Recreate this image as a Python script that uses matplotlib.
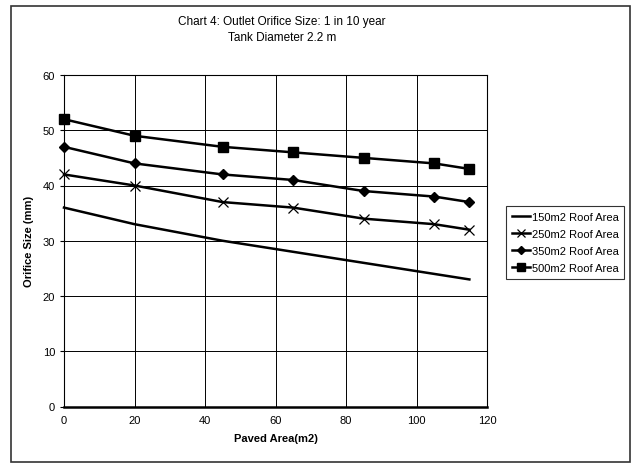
import matplotlib
matplotlib.use("Agg")
import matplotlib.pyplot as plt
from matplotlib.patches import Rectangle

plt.rcParams["font.family"] = ["Liberation Sans", "DejaVu Sans"]

paved_area = [0, 20, 45, 65, 85, 105, 115]
roof_150 = [36, 33, 30, 28, 26, 24, 23]
roof_250 = [42, 40, 37, 36, 34, 33, 32]
roof_350 = [47, 44, 42, 41, 39, 38, 37]
roof_500 = [52, 49, 47, 46, 45, 44, 43]

series = [
    ("150m2 Roof Area", roof_150, dict(marker=None)),
    ("250m2 Roof Area", roof_250, dict(marker="x", ms=7, mew=0.9)),
    ("350m2 Roof Area", roof_350, dict(marker="D", ms=5)),
    ("500m2 Roof Area", roof_500, dict(marker="s", ms=7)),
]

fig = plt.figure(figsize=(6.31, 4.64), dpi=100)
fig.patches.append(Rectangle((11 / 631, 1 / 464), 619 / 631, 456 / 464,
                             transform=fig.transFigure, fill=False,
                             edgecolor="#333333", linewidth=1.2))

ax = fig.add_axes([64 / 631, 1 - 407.5 / 464, 423 / 631, 331.5 / 464])
for label, vals, style in series:
    ax.plot(paved_area, vals, color="black", lw=1.8, label=label,
            clip_on=False, zorder=3, **style)

ax.set_xlim(0, 120)
ax.set_ylim(0, 60)
ax.set_xticks(range(0, 121, 20))
ax.set_yticks(range(0, 61, 10))
ax.grid(True, color="black", lw=0.7)
ax.tick_params(labelsize=8, length=3, width=0.8, direction="out")
ax.tick_params(axis="x", length=0, pad=6)
for s in ax.spines.values():
    s.set_linewidth(0.8)
ax.spines["bottom"].set_linewidth(1.8)
ax.set_xlabel("Paved Area(m2)", fontsize=8, fontweight="bold", labelpad=6)
ax.set_ylabel("Orifice Size (mm)", fontsize=8, fontweight="bold", labelpad=6)

fig.text(0.5 * (64 + 487) / 631 + 0.01, 1 - 30 / 464,
         "Chart 4: Outlet Orifice Size: 1 in 10 year\nTank Diameter 2.2 m",
         ha="center", va="center", fontsize=8.5, linespacing=1.5)

leg = ax.legend(loc="center left", bbox_to_anchor=(506 / 631, 1 - 243.5 / 464),
                bbox_transform=fig.transFigure, fontsize=8, frameon=True,
                fancybox=False, edgecolor="black", handlelength=1.7,
                handletextpad=0.1, labelspacing=0.65, borderaxespad=0,
                borderpad=0.5, markerscale=0.75)
leg.get_frame().set_linewidth(0.8)

fig.savefig("out.png", dpi=100)
